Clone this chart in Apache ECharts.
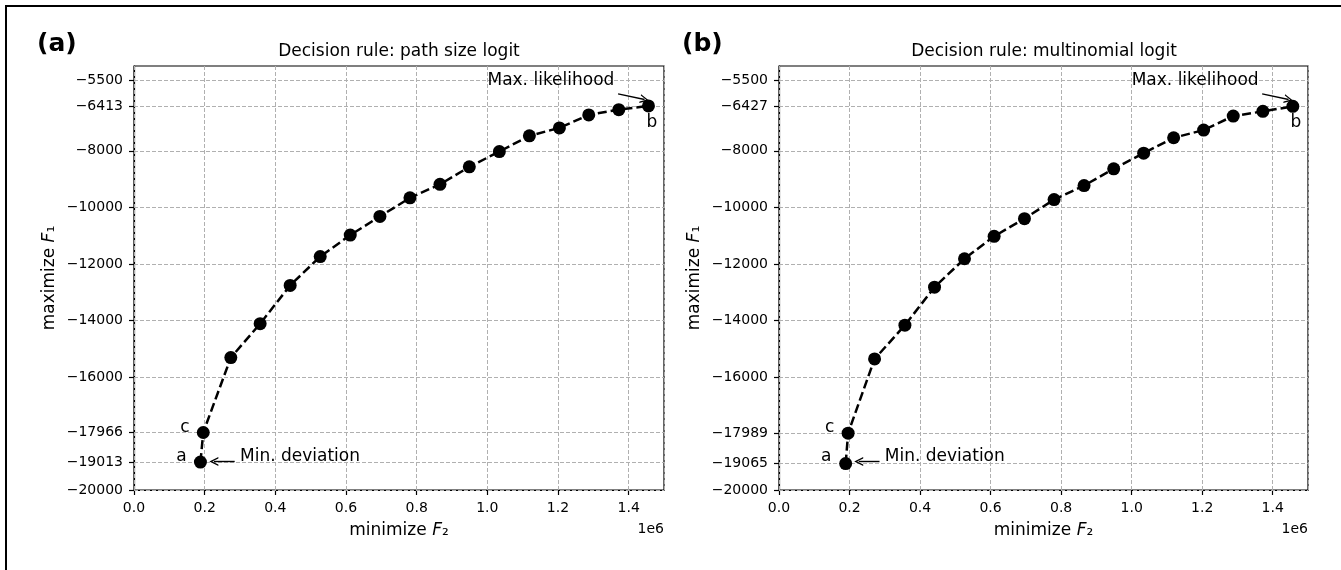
<!DOCTYPE html>
<html>
<head>
<meta charset="utf-8">
<title>Pareto fronts</title>
<script src="https://cdn.jsdelivr.net/npm/echarts@6/dist/echarts.min.js"></script>
<style>
  html, body { margin: 0; padding: 0; background: #fff; }
  #chart { width: 1341px; height: 570px; }
</style>
</head>
<body>
<div id="chart"></div>
<script>
// (a) path size logit
var F2_psl = [188000, 196000, 274000, 357000, 442000, 527000, 612000, 696000, 781000,
  866000, 949000, 1034000, 1119000, 1204000, 1287000, 1372000, 1456000];
var F1_psl = [-19013, -17966, -15316, -14116, -12761, -11742, -10981, -10323, -9665,
  -9187, -8568, -8026, -7471, -7189, -6730, -6545, -6413];
var yTicks_psl = [-5500, -6413, -8000, -10000, -12000, -14000, -16000, -17966, -19013, -20000];

// (b) multinomial logit
var F2_mnl = [189000, 196000, 271000, 357000, 441000, 526000, 610000, 696000, 780000,
  865000, 949000, 1034000, 1119000, 1204000, 1288000, 1372000, 1457000];
var F1_mnl = [-19065, -17989, -15364, -14170, -12823, -11818, -11026, -10400, -9726,
  -9229, -8638, -8083, -7539, -7267, -6771, -6605, -6427];
var yTicks_mnl = [-5500, -6427, -8000, -10000, -12000, -14000, -16000, -17989, -19065, -20000];

var xTicks = [0, 200000, 400000, 600000, 800000, 1000000, 1200000, 1400000];

// annotation texts [x, y, text] and arrows [x1, y1, x2, y2]
var notes = [
  [1180000, -5510, 'Max. likelihood'],
  [1466000, -7010, 'b'],
  [144000, -17800, 'c'],
  [134000, -18800, 'a']
];
var minNote = [300000, -18800, 'Min. deviation'];
var arrows = [
  [1370000, -5985, 1445000, -6185],
  [285000, -18990, 226000, -18990]
];

var FONT = 'DejaVu Sans';
var chart = echarts.init(document.getElementById('chart'));

var grids = [
  { left: 134, top: 66, width: 530, height: 424 },
  { left: 779, top: 66, width: 529, height: 424 }
];

function minus(v) {
  return (v < 0 ? '\u2212' : '') + Math.abs(v);
}

function makeAxes(i, yTicks) {
  var x = {
    type: 'value', gridIndex: i, min: 0, max: 1500000,
    name: '{n|minimize }{i|F}{n|\u2082}', nameLocation: 'middle', nameGap: 32,
    nameTextStyle: { color: '#000', fontFamily: FONT, fontSize: 17,
      rich: { n: { fontFamily: FONT, fontSize: 17, color: '#000' },
              i: { fontFamily: FONT, fontSize: 17, color: '#000', fontStyle: 'italic' } } },
    axisLine: { onZero: false, lineStyle: { color: '#000', width: 1.2 } },
    axisTick: { customValues: xTicks, length: 5, lineStyle: { color: '#000', width: 1.2 } },
    axisLabel: { customValues: xTicks, margin: 11, color: '#000', fontFamily: FONT, fontSize: 14,
      formatter: function (v) { return (v / 1e6).toFixed(1); } },
    splitLine: { show: false }
  };
  var y = {
    type: 'value', gridIndex: i, min: -20000, max: -5000,
    name: '{n|maximize }{i|F}{n|\u2081}', nameLocation: 'middle', nameGap: 76, nameRotate: 90,
    nameTextStyle: { color: '#000', fontFamily: FONT, fontSize: 17,
      rich: { n: { fontFamily: FONT, fontSize: 17, color: '#000' },
              i: { fontFamily: FONT, fontSize: 17, color: '#000', fontStyle: 'italic' } } },
    axisLine: { onZero: false, lineStyle: { color: '#000', width: 1.2 } },
    axisTick: { customValues: yTicks, length: 5, lineStyle: { color: '#000', width: 1.2 } },
    axisLabel: { customValues: yTicks, margin: 11, color: '#000', fontFamily: FONT, fontSize: 14,
      formatter: minus },
    splitLine: { show: false }
  };
  return [x, y];
}

function makeSeries(i, xs, ys, yTicks) {
  var pts = xs.map(function (v, k) { return [v, ys[k]]; });
  var gridLines = [];
  yTicks.forEach(function (v) { gridLines.push({ yAxis: v }); });
  xTicks.forEach(function (v) { gridLines.push({ xAxis: v }); });
  gridLines.push({ xAxis: 1500000 });

  var texts = notes.map(function (n) {
    return { value: [n[0], n[1]], name: n[2] };
  });
  texts.push({ value: [minNote[0], minNote[1]], name: minNote[2],
    label: { position: 'right', distance: 0 } });

  var arrowLines = arrows.map(function (a) {
    return [{ coord: [a[0], a[1]] }, { coord: [a[2], a[3]] }];
  });

  return [
    { // dashed grid, under everything
      type: 'line', xAxisIndex: i, yAxisIndex: i, z: 1, silent: true,
      data: [], showSymbol: false,
      markLine: {
        z: 1, silent: true, symbol: 'none', label: { show: false },
        lineStyle: { color: '#b0b0b0', width: 1, type: [4, 2] },
        data: gridLines
      }
    },
    { // the front
      type: 'line', xAxisIndex: i, yAxisIndex: i, z: 3,
      data: pts,
      symbol: 'circle', symbolSize: 13, showSymbol: true,
      itemStyle: { color: '#000' },
      lineStyle: { color: '#000', width: 2.5, type: [9, 4] }
    },
    { // annotations
      type: 'scatter', xAxisIndex: i, yAxisIndex: i, z: 4,
      symbolSize: 0,
      itemStyle: { color: '#000', opacity: 1 },
      data: texts,
      label: { show: true, position: 'inside', formatter: '{b}',
        color: '#000', opacity: 1, textBorderWidth: 0, fontFamily: FONT, fontSize: 17 },
      markLine: {
        silent: true,
        symbol: ['none', 'path://M0,10 L5,0 L10,10 L8.4,10 L5,3.2 L1.6,10 Z'],
        symbolSize: [9, 9],
        label: { show: false },
        lineStyle: { color: '#000', width: 1.4, type: 'solid', opacity: 1 },
        data: arrowLines
      }
    }
  ];
}

var axA = makeAxes(0, yTicks_psl);
var axB = makeAxes(1, yTicks_mnl);

var option = {
  animation: false,
  backgroundColor: '#fff',
  grid: grids.map(function (g) {
    return Object.assign({ show: true, borderColor: '#000', borderWidth: 1.2, containLabel: false }, g);
  }),
  xAxis: [axA[0], axB[0]],
  yAxis: [axA[1], axB[1]],
  series: makeSeries(0, F2_psl, F1_psl, yTicks_psl).concat(makeSeries(1, F2_mnl, F1_mnl, yTicks_mnl)),
  graphic: [
    // frame
    { type: 'line', shape: { x1: 5, y1: 6, x2: 1341, y2: 6 }, style: { stroke: '#000', lineWidth: 2 } },
    { type: 'line', shape: { x1: 6, y1: 5, x2: 6, y2: 570 }, style: { stroke: '#000', lineWidth: 2 } },
    // panel letters
    { type: 'text', x: 37, y: 44, style: { text: '(a)', fill: '#000', font: 'bold 25px "DejaVu Sans"', verticalAlign: 'middle' } },
    { type: 'text', x: 682, y: 44, style: { text: '(b)', fill: '#000', font: 'bold 25px "DejaVu Sans"', verticalAlign: 'middle' } },
    // titles
    { type: 'text', x: 399, y: 52, style: { text: 'Decision rule: path size logit', fill: '#000', font: '17px "DejaVu Sans"', align: 'center', verticalAlign: 'middle' } },
    { type: 'text', x: 1044, y: 52, style: { text: 'Decision rule: multinomial logit', fill: '#000', font: '17px "DejaVu Sans"', align: 'center', verticalAlign: 'middle' } },
    // offset text
    { type: 'text', x: 664, y: 529, style: { text: '1e6', fill: '#000', font: '14px "DejaVu Sans"', align: 'right', verticalAlign: 'middle' } },
    { type: 'text', x: 1308, y: 529, style: { text: '1e6', fill: '#000', font: '14px "DejaVu Sans"', align: 'right', verticalAlign: 'middle' } }
  ]
};

chart.setOption(option);
</script>
</body>
</html>
